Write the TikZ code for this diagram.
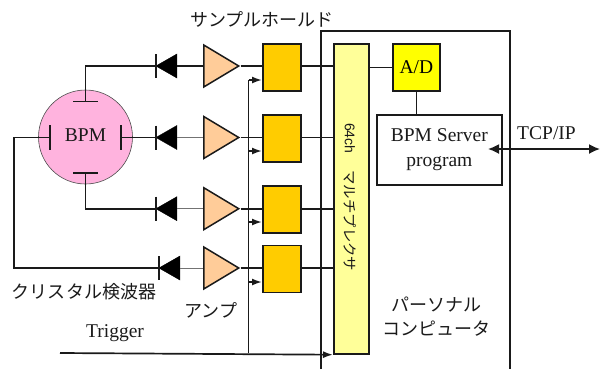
\documentclass[tikz,border=0pt]{standalone}
\usepackage{fontspec}
\setmainfont{Liberation Serif}
\newfontfamily\jpfont{Noto Sans CJK JP}
\newfontfamily\arialfont{Liberation Sans}
\usetikzlibrary{shapes.geometric,arrows.meta,positioning}
\definecolor{pinkfill}{HTML}{FFB3DE}
\definecolor{ampfill}{HTML}{FFCC99}
\definecolor{shfill}{HTML}{FFCC00}
\definecolor{muxfill}{HTML}{FFFF99}
\definecolor{adfill}{HTML}{FFFF00}
\definecolor{inkc}{HTML}{1A1A1A}
\tikzset{
  wire/.style={line width=1.7bp,draw=inkc},
  thinwire/.style={line width=0.7bp,draw=black!55},
  box/.style={draw=inkc,line width=1.7bp,rectangle,inner sep=0pt,anchor=north west},
  shbox/.style={box,fill=shfill,minimum width=38bp,minimum height=47bp},
  ampnode/.style={isosceles triangle,isosceles triangle stretches,draw=inkc,line width=1.5bp,fill=ampfill,
     minimum width=42bp,minimum height=35bp,inner sep=0pt,anchor=lower side},
  diodenode/.style={isosceles triangle,isosceles triangle stretches,draw=black,line width=0.3bp,fill=black,
     shape border rotate=180,minimum width=24bp,minimum height=21bp,inner sep=0pt,anchor=lower side},
  barline/.style={line width=1.4bp,draw=inkc},
  trig/.style={-{Latex[length=10bp,width=7bp]},line width=1.7bp,draw=inkc},
  jp/.style={font=\jpfont\fontsize{18bp}{22bp}\selectfont,text=inkc,inner sep=0pt,align=center},
  en/.style={font=\fontsize{19.5bp}{24bp}\selectfont,text=inkc,inner sep=0pt,align=center},
}
\begin{document}
\begin{tikzpicture}[x=1bp,y=-1bp]
\useasboundingbox (0,0) rectangle (600,369);
% personal computer frame (runs off the bottom)
\draw[wire] (321,369) -- (321,31) -- (510,31) -- (510,369);
% BPM
\node[circle,draw=black!70,line width=0.6bp,fill=pinkfill,minimum size=94bp,inner sep=0pt] (bpm) at (85.5,137) {};
\node[en] (bpmlabel) at (85.5,135.5) {BPM};
\coordinate (et) at (85.5,101.5);
\coordinate (eb) at (85.5,173);
\coordinate (el) at (50,137.5);
\coordinate (er) at (121,137.5);
\draw[barline] (73,101.5) -- (98,101.5);
\draw[barline] (73,173) -- (98,173);
\draw[barline] (50,125) -- (50,150);
\draw[barline] (121,125) -- (121,150);
% blocks
\node[box,fill=muxfill,minimum width=35bp,minimum height=310bp] (mux) at (333,43) {};
\node[box,fill=adfill,minimum width=47bp,minimum height=47bp,font=\fontsize{19.5bp}{24bp}\selectfont] (ad) at (392,43) {A/D};
\node[box,fill=white,minimum width=125bp,minimum height=70bp,en,anchor=north west] (srv) at (376,114) {BPM Server\\[1bp]program};
\node[shbox] (sh1) at (262,43) {};
\node[shbox] (sh2) at (262,114) {};
\node[shbox] (sh3) at (262,185) {};
\node[shbox] (sh4) at (262,244.5) {};
\node[ampnode] (amp1) at (203,66) {};
\node[ampnode] (amp2) at (203,137.5) {};
\node[ampnode] (amp3) at (203,208.7) {};
\node[ampnode] (amp4) at (203,268) {};
\node[diodenode] (d1) at (177,66) {};
\node[diodenode] (d2) at (177,137.5) {};
\node[diodenode] (d3) at (177,208.7) {};
\node[diodenode] (d4) at (180,268) {};
\draw[barline] (156,54) -- (156,78);
\draw[barline] (156,125.5) -- (156,149.5);
\draw[barline] (156,196.7) -- (156,220.7);
\draw[barline] (159,256) -- (159,280);
% signal wires
\draw[wire] (et) -- (85.5,66) -- (d1.apex);
\draw[wire] (er) -- (d2.apex);
\draw[wire] (eb) -- (85.5,208.7) -- (d3.apex);
\draw[wire] (el) -- (14,137.5) -- (14,268) -- (d4.apex);
\draw[wire] (d1.lower side) -- (amp1.lower side);
\draw[thinwire] (d2.lower side) -- (amp2.lower side);
\draw[thinwire] (d3.lower side) -- (amp3.lower side);
\draw[thinwire] (d4.lower side) -- (amp4.lower side);
\draw[wire] (amp1.apex) -- (sh1.west |- amp1.apex);
\draw[wire] (amp2.apex) -- (sh2.west |- amp2.apex);
\draw[wire] (amp3.apex) -- (sh3.west |- amp3.apex);
\draw[wire] (amp4.apex) -- (sh4.west |- amp4.apex);
\draw[wire] (sh1.east |- amp1.apex) -- (mux.west |- amp1.apex);
\draw[wire] (sh2.east |- amp2.apex) -- (mux.west |- amp2.apex);
\draw[wire] (sh3.east |- amp3.apex) -- (mux.west |- amp3.apex);
\draw[wire] (sh4.east |- amp4.apex) -- (mux.west |- amp4.apex);
\draw[wire] (mux.east |- ad.west) -- (ad.west);
\draw[wire] (ad.south) -- (ad.south |- srv.north);
% trigger
\coordinate (trigstart) at (60,353);
\coordinate (bus) at (248.5,353);
\coordinate (bustop) at (248.5,80);
\draw[trig] (trigstart) -- (mux.south west);
\draw[wire] (bus) -- (bustop);
\draw[trig] (bustop) -- (sh1.west |- bustop);
\draw[trig] (248.5,151) -- (sh2.west |- 0,151);
\draw[trig] (248.5,222) -- (sh3.west |- 0,222);
\draw[trig] (248.5,282) -- (sh4.west |- 0,282);
% network
\coordinate (net) at (600,149);
\draw[{Latex[length=11bp,width=10bp]}-{Latex[length=11bp,width=10bp]},line width=1.7bp,draw=inkc] (488,149) -- (net);
% labels
\node[jp] (lsh) at (262,19) {サンプルホールド};
\node[en] (ltcp) at (546.5,133) {TCP/IP};
\node[en] (ltrig) at (115,333) {Trigger};
\node[jp] (lcry) at (84,292) {クリスタル検波器};
\node[jp] (lamp) at (211,310) {アンプ};
\node[jp] (lpc) at (436,317) {パーソナル\\[2bp]コンピュータ};
\node[rotate=-90,inner sep=0pt,text=inkc,anchor=west] (lmux) at (350.5,123) {\fontsize{14bp}{16bp}\selectfont\arialfont 64ch\hspace{17bp}\jpfont\fontsize{14.4bp}{16bp}\selectfont マルチプレクサ};
\end{tikzpicture}
\end{document}
